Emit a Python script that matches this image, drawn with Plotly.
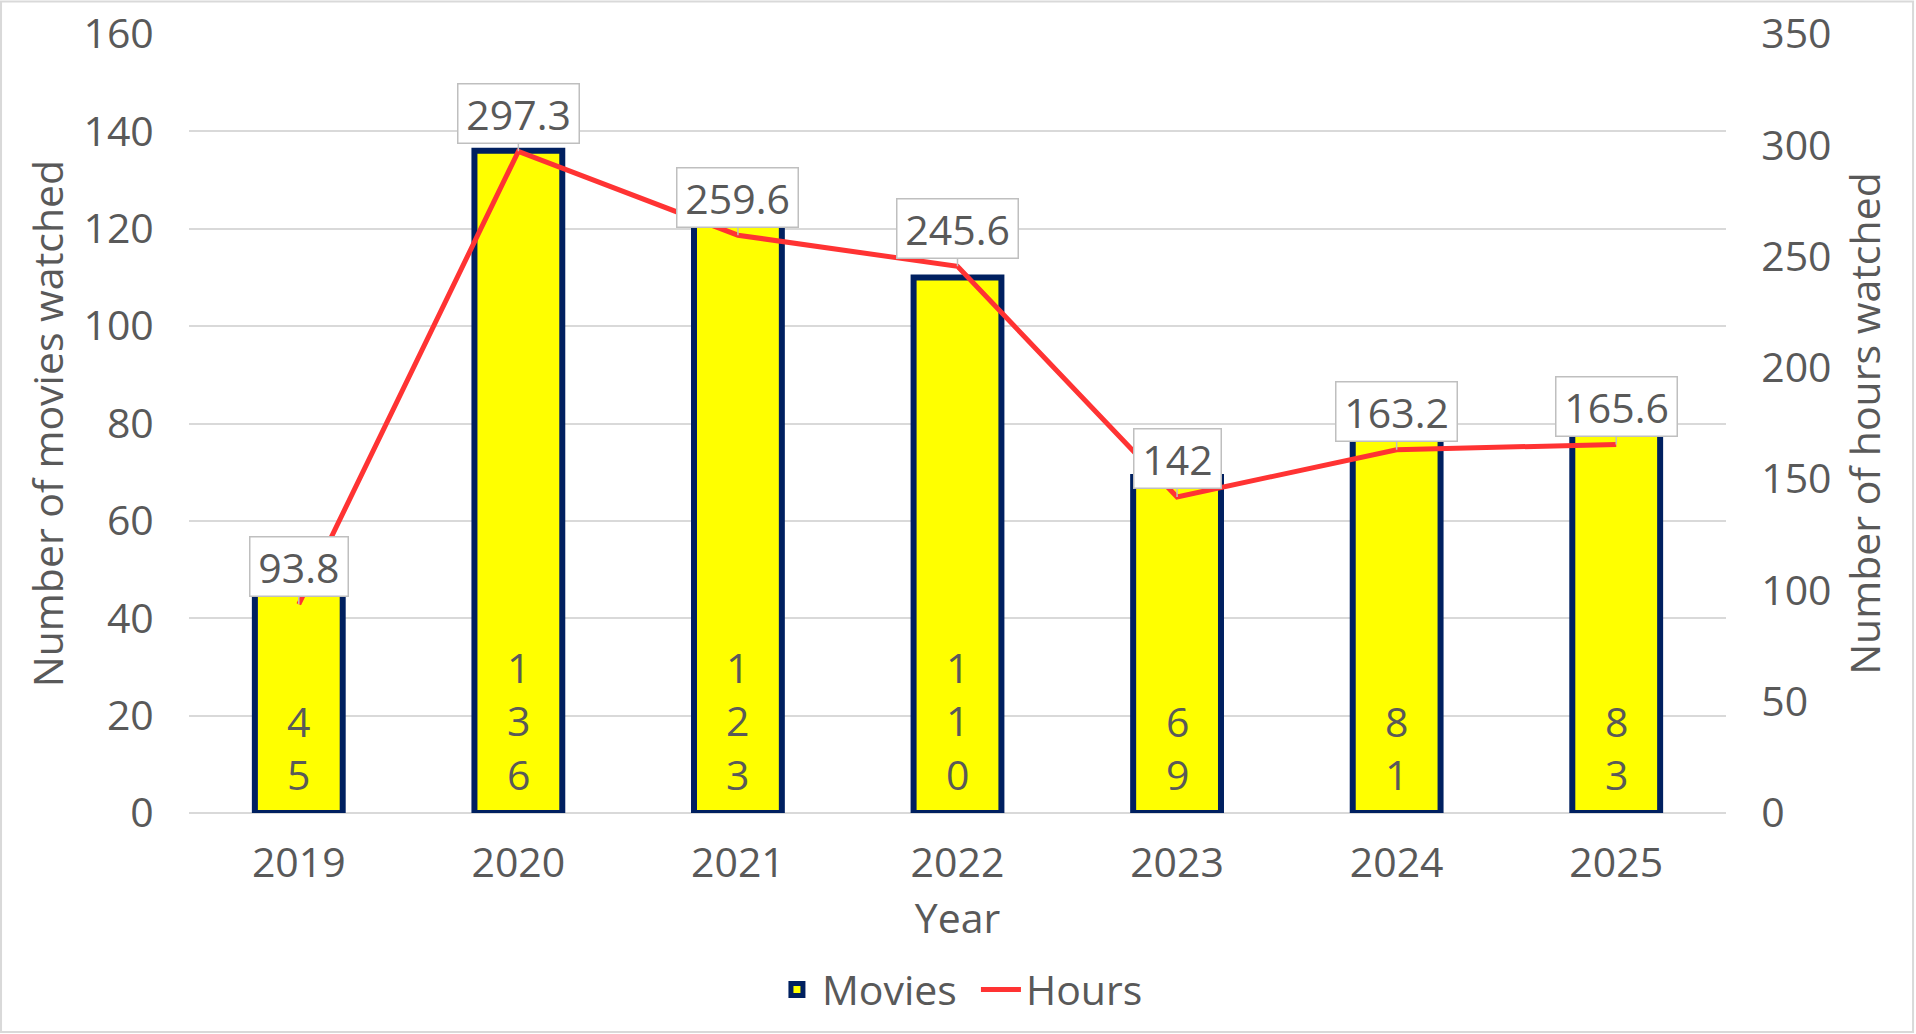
import plotly.graph_objects as go

years = ["2019", "2020", "2021", "2022", "2023", "2024", "2025"]
movies = [45, 136, 123, 110, 69, 81, 83]
hours = [93.8, 297.3, 259.6, 245.6, 142, 163.2, 165.6]
hour_labels = ["93.8", "297.3", "259.6", "245.6", "142", "163.2", "165.6"]

FONT = "Open Sans"
FS = 41
GREY = "#595959"

fig = go.Figure()
fig.add_trace(go.Bar(
    x=years, y=movies, name="Movies", width=0.4,
    marker=dict(color="#FFFF00", line=dict(color="#002060", width=6)),
    yaxis="y",
))
fig.add_trace(go.Scatter(
    x=years, y=hours, name="Hours", mode="lines",
    line=dict(color="#FF3333", width=5),
    yaxis="y2",
))

annotations = []
# stacked digit labels inside bars (category index positions)
for i, m in enumerate(movies):
    annotations.append(dict(
        x=i, y=0, xref="x", yref="y", text="<br>".join(list(str(m))),
        showarrow=False, yanchor="bottom", yshift=9,
        font=dict(family=FONT, size=FS, color=GREY),
    ))
# callouts for hours
for i, (h, lab) in enumerate(zip(hours, hour_labels)):
    annotations.append(dict(
        x=i, y=h, xref="x", yref="y2", text="\u2009" + lab + "\u2009",
        showarrow=True, arrowhead=0, arrowcolor="#BFBFBF", arrowwidth=1.5,
        ax=0, ay=-38, standoff=0,
        bgcolor="white", bordercolor="#BFBFBF", borderwidth=1.5, borderpad=1,
        font=dict(family=FONT, size=FS, color=GREY),
    ))

fig.update_layout(
    width=1916, height=1034,
    margin=dict(l=189, r=190, t=34, b=221, autoexpand=False),
    paper_bgcolor="white", plot_bgcolor="white",
    font=dict(family=FONT, size=FS, color=GREY),
    showlegend=True,
    legend=dict(orientation="h", x=0.512, xanchor="center", y=-0.227, yanchor="middle",
                font=dict(family=FONT, size=FS, color=GREY), itemwidth=40,
                entrywidth=149, entrywidthmode="pixels",
                traceorder="normal"),
    xaxis=dict(type="category", showgrid=False, showline=False, zeroline=False,
               automargin=False,
               ticks="outside", ticklen=14, tickcolor="rgba(0,0,0,0)",
               title=dict(text="Year", standoff=0, font=dict(size=FS, color=GREY)),
               tickfont=dict(size=FS, color=GREY)),
    yaxis=dict(range=[0, 160], dtick=20, showgrid=True, gridcolor="#D9D9D9", gridwidth=1.5,
               zeroline=True, zerolinecolor="#D9D9D9", zerolinewidth=1.5, automargin=False,
               ticks="outside", ticklen=26, tickcolor="rgba(0,0,0,0)",
               title=dict(text="Number of movies watched", standoff=7, font=dict(size=FS, color=GREY)),
               tickfont=dict(size=FS, color=GREY)),
    yaxis2=dict(range=[0, 350], dtick=50, overlaying="y", side="right", showgrid=False,
                zeroline=False, automargin=False,
                ticks="outside", ticklen=26, tickcolor="rgba(0,0,0,0)",
                title=dict(text="Number of hours watched", standoff=20, font=dict(size=FS, color=GREY)),
                tickfont=dict(size=FS, color=GREY)),
    annotations=annotations,
    shapes=[dict(type="rect", xref="paper", yref="paper",
                 x0=-0.1223, x1=1.1217, y0=-0.281, y1=1.0417,
                 line=dict(color="#D9D9D9", width=2), layer="below")],
)

fig.write_html("out.html", config={"displayModeBar": False},
               post_script="document.body.style.margin='0';")
